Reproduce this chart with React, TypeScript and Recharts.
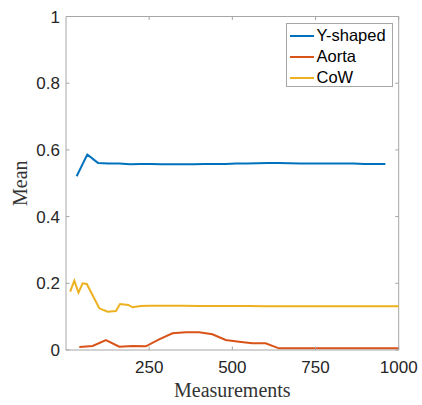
import { LineChart, Line, XAxis, YAxis, ReferenceLine, Legend } from 'recharts';

const yShapedX = [32, 64, 96, 128, 160, 192, 224, 256, 288, 320, 352, 384, 416, 448, 480, 512, 544, 576, 608, 640, 672, 704, 736, 768, 800, 832, 864, 896, 928, 960];
const yShapedMean = [0.521, 0.586, 0.561, 0.559, 0.559, 0.557, 0.558, 0.558, 0.557, 0.557, 0.557, 0.557, 0.558, 0.558, 0.558, 0.559, 0.559, 0.56, 0.561, 0.561, 0.56, 0.559, 0.559, 0.559, 0.559, 0.559, 0.559, 0.558, 0.558, 0.558];

const aortaX = [40, 80, 120, 160, 200, 240, 280, 320, 360, 400, 440, 480, 520, 560, 600, 640, 680, 720, 760, 800, 840, 880, 920, 960, 1000];
const aortaMean = [0.009, 0.012, 0.03, 0.01, 0.012, 0.011, 0.032, 0.05, 0.053, 0.053, 0.047, 0.03, 0.025, 0.02, 0.02, 0.005, 0.005, 0.005, 0.005, 0.005, 0.005, 0.005, 0.005, 0.005, 0.005];

const cowX = [12.5, 25, 37.5, 50, 62.5, 100, 125, 150, 162.5, 187.5, 200, 225, 250, 300, 350, 400, 450, 500, 550, 600, 650, 700, 750, 800, 850, 900, 950, 1000];
const cowMean = [0.175, 0.208, 0.172, 0.2, 0.198, 0.125, 0.115, 0.117, 0.138, 0.135, 0.128, 0.132, 0.133, 0.133, 0.133, 0.132, 0.132, 0.132, 0.132, 0.131, 0.131, 0.131, 0.131, 0.131, 0.131, 0.131, 0.131, 0.131];

const xTicks = [250, 500, 750, 1000];
const yTicks = [0, 0.2, 0.4, 0.6, 0.8, 1];

const series = [
  { name: 'Y-shaped', color: '#0072BD', data: yShapedX.map((x, i) => ({ x, y: yShapedMean[i] })) },
  { name: 'Aorta', color: '#D95319', data: aortaX.map((x, i) => ({ x, y: aortaMean[i] })) },
  { name: 'CoW', color: '#EDB120', data: cowX.map((x, i) => ({ x, y: cowMean[i] })) },
];

const W = 422;
const H = 405;
const M = { top: 16.5, right: 23.3, left: 0, bottom: 0 };
const Y_AXIS_W = 66;
const X_AXIS_H = 55;
const PLOT_W = W - M.left - M.right - Y_AXIS_W;
const PLOT_H = H - M.top - M.bottom - X_AXIS_H;
const AXIS = '#a6a6a6';
const TXT = '#262626';
const SANS = '"Liberation Sans", Arial, sans-serif';
const SERIF = '"Liberation Serif", "Times New Roman", serif';

const XTick = ({ x, y, payload }: any) => (
  <g>
    <line x1={x} y1={y} x2={x} y2={y - 3.5} stroke={AXIS} />
    <line x1={x} y1={y - PLOT_H} x2={x} y2={y - PLOT_H + 3.5} stroke={AXIS} />
    <text x={x} y={y + 23} textAnchor="middle" fontSize={17} fontFamily={SANS} fill={TXT}>
      {payload.value}
    </text>
  </g>
);

const YTick = ({ x, y, payload }: any) => (
  <g>
    <line x1={x} y1={y} x2={x + 3.5} y2={y} stroke={AXIS} />
    <line x1={x + PLOT_W} y1={y} x2={x + PLOT_W - 3.5} y2={y} stroke={AXIS} />
    <text x={x - 6} y={y + 6} textAnchor="end" fontSize={17} fontFamily={SANS} fill={TXT}>
      {payload.value}
    </text>
  </g>
);

const LegendBox = () => (
  <div
    style={{
      width: 105,
      height: 62,
      border: `1px solid ${AXIS}`,
      background: '#fff',
      fontFamily: SANS,
      fontSize: 16.5,
      color: '#000',
      boxSizing: 'content-box',
    }}
  >
    {series.map((s, i) => (
      <div key={s.name} style={{ display: 'flex', alignItems: 'center', height: 21, marginTop: i === 0 ? 1 : 0 }}>
        <svg width={30} height={4}>
          <line x1={3} y1={2} x2={27} y2={2} stroke={s.color} strokeWidth={2} />
        </svg>
        <span>{s.name}</span>
      </div>
    ))}
  </div>
);

export default function App() {
  return (
    <div style={{ position: 'absolute', left: 0, top: 0, width: W, height: H, background: '#fff' }}>
      <LineChart width={W} height={H} margin={M}>
        <XAxis
          dataKey="x"
          type="number"
          domain={[0, 1000]}
          ticks={xTicks}
          height={X_AXIS_H}
          stroke={AXIS}
          tickLine={false}
          tickSize={0}
          tickMargin={0}
          tick={<XTick />}
          interval={0}
          allowDuplicatedCategory={false}
          label={{ value: 'Measurements', position: 'insideBottom', offset: 8, fontSize: 20, fontFamily: SERIF, fill: '#333' }}
        />
        <YAxis
          type="number"
          domain={[0, 1]}
          ticks={yTicks}
          width={Y_AXIS_W}
          stroke={AXIS}
          tickLine={false}
          tickSize={0}
          tickMargin={0}
          tick={<YTick />}
          interval={0}
          label={{ value: 'Mean', angle: -90, position: 'insideLeft', offset: 20, fontSize: 20, fontFamily: SERIF, fill: '#333', style: { textAnchor: 'middle' } }}
        />
        <ReferenceLine y={1} stroke={AXIS} />
        <ReferenceLine x={1000} stroke={AXIS} />
        {series.map((s) => (
          <Line
            key={s.name}
            data={s.data}
            dataKey="y"
            name={s.name}
            type="linear"
            stroke={s.color}
            strokeWidth={2}
            dot={false}
            isAnimationActive={false}
          />
        ))}
        <Legend
          layout="horizontal"
          verticalAlign="middle"
          align="center"
          wrapperStyle={{ position: 'absolute', left: 285.5, top: 23, width: 'auto' }}
          content={<LegendBox />}
        />
      </LineChart>
    </div>
  );
}
